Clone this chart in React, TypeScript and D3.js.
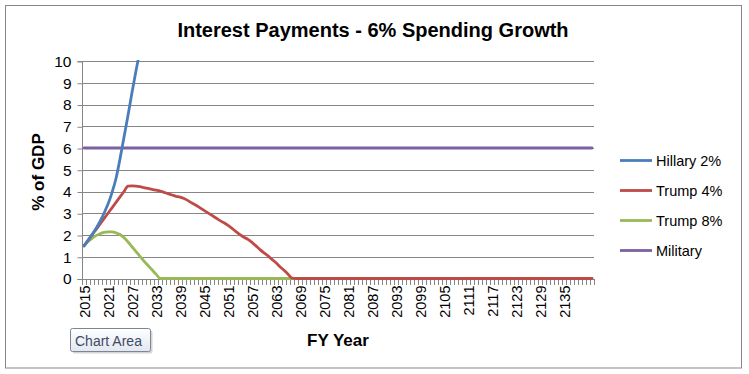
import { useEffect, useRef } from "react";
import * as d3 from "d3";

// Fiscal years on the category axis (2015 .. 2142)
const years: number[] = d3.range(2015, 2143);

// % of GDP (Hillary runs off the top after ~2028)
const hillary2: number[] = [
    1.5, 1.75, 2.02, 2.3, 2.62, 3.0, 3.42, 3.95, 4.6, 5.5, 6.5, 7.5, 8.55, 9.55, 10.5, 11.5,
];

const trump4: number[] = [
    1.5, 1.75, 2.0, 2.25, 2.5, 2.75, 3.0, 3.25, 3.5, 3.75, 4.0, 4.25, 4.26, 4.25, 4.22, 4.18,
    4.14, 4.1, 4.06, 4.02, 3.96, 3.9, 3.84, 3.78, 3.74, 3.68, 3.58, 3.47, 3.37, 3.25, 3.13, 3.02,
    2.9, 2.78, 2.66, 2.56, 2.44, 2.3, 2.16, 2.02, 1.9, 1.8, 1.66, 1.5, 1.33, 1.18, 1.04, 0.88,
    0.72, 0.54, 0.38, 0.2, 0.02, 0, 0, 0, 0, 0, 0, 0, 0, 0, 0, 0,
    0, 0, 0, 0, 0, 0, 0, 0, 0, 0, 0, 0, 0, 0, 0, 0,
    0, 0, 0, 0, 0, 0, 0, 0, 0, 0, 0, 0, 0, 0, 0, 0,
    0, 0, 0, 0, 0, 0, 0, 0, 0, 0, 0, 0, 0, 0, 0, 0,
    0, 0, 0, 0, 0, 0, 0, 0, 0, 0, 0, 0, 0, 0, 0, 0,
];

const trump8: number[] = [
    1.5, 1.7, 1.85, 1.97, 2.06, 2.12, 2.14, 2.14, 2.1, 2.02, 1.88, 1.68, 1.46, 1.24, 1.02, 0.8,
    0.6, 0.4, 0.2, 0.01, 0, 0, 0, 0, 0, 0, 0, 0, 0, 0, 0, 0,
    0, 0, 0, 0, 0, 0, 0, 0, 0, 0, 0, 0, 0, 0, 0, 0,
    0, 0, 0, 0, 0, 0, 0, 0, 0, 0, 0, 0, 0, 0, 0, 0,
    0, 0, 0, 0, 0, 0, 0, 0, 0, 0, 0, 0, 0, 0, 0, 0,
    0, 0, 0, 0, 0, 0, 0, 0, 0, 0, 0, 0, 0, 0, 0, 0,
    0, 0, 0, 0, 0, 0, 0, 0, 0, 0, 0, 0, 0, 0, 0, 0,
    0, 0, 0, 0, 0, 0, 0, 0, 0, 0, 0, 0, 0, 0, 0, 0,
];

const military: number[] = [
    6, 6, 6, 6, 6, 6, 6, 6, 6, 6, 6, 6, 6, 6, 6, 6,
    6, 6, 6, 6, 6, 6, 6, 6, 6, 6, 6, 6, 6, 6, 6, 6,
    6, 6, 6, 6, 6, 6, 6, 6, 6, 6, 6, 6, 6, 6, 6, 6,
    6, 6, 6, 6, 6, 6, 6, 6, 6, 6, 6, 6, 6, 6, 6, 6,
    6, 6, 6, 6, 6, 6, 6, 6, 6, 6, 6, 6, 6, 6, 6, 6,
    6, 6, 6, 6, 6, 6, 6, 6, 6, 6, 6, 6, 6, 6, 6, 6,
    6, 6, 6, 6, 6, 6, 6, 6, 6, 6, 6, 6, 6, 6, 6, 6,
    6, 6, 6, 6, 6, 6, 6, 6, 6, 6, 6, 6, 6, 6, 6, 6,
];

const seriesNames = ["Hillary 2%", "Trump 4%", "Trump 8%", "Military"];
const seriesColors = ["#4a7ebb", "#be4b48", "#98b954", "#7d60a0"];
const yTicks = [0, 1, 2, 3, 4, 5, 6, 7, 8, 9, 10];

export default function App() {
    const svgRef = useRef<SVGSVGElement | null>(null);

    useEffect(() => {
        const width = 749;
        const height = 374;
        const font = "'Liberation Sans', Arial, sans-serif";

        const svg = d3.select(svgRef.current!).attr("width", width).attr("height", height);
        svg.selectAll("*").remove();

        // outer chart border
        svg.append("rect")
            .attr("x", 5.5).attr("y", 5.5)
            .attr("width", 736).attr("height", 362.5)
            .attr("fill", "white")
            .attr("stroke", "#878787");

        // plot area
        const left = 82, right = 594, top = 61, bottom = 278.5;

        const x = d3.scaleBand<number>().domain(years).range([left, right]).padding(0);
        const y = d3.scaleLinear().domain([0, 10]).range([bottom, top]);

        // horizontal gridlines
        svg.append("g")
            .selectAll("line")
            .data(yTicks.filter((t) => t > 0))
            .enter()
            .append("line")
            .attr("x1", left)
            .attr("x2", right)
            .attr("y1", (d) => Math.round(y(d)) + 0.5)
            .attr("y2", (d) => Math.round(y(d)) + 0.5)
            .attr("stroke", "#868686");

        // y axis, ticks out to the left
        const yAxis = svg.append("g")
            .attr("transform", `translate(${left + 0.5},0.5)`)
            .call(d3.axisLeft(y).tickValues(yTicks).tickSize(5).tickPadding(6).tickFormat(d3.format("d")));
        yAxis.select(".domain").attr("stroke", "#868686").attr("d", `M-5,${Math.round(y(10))}H0V${Math.round(y(0))}H-5`);
        yAxis.selectAll(".tick line").attr("stroke", "#868686");
        yAxis.selectAll(".tick text")
            .attr("fill", "#000")
            .style("font-family", font)
            .style("font-size", "15.5px");

        // x axis: a tick between every category, labels every 6 years
        const boundaries = d3.range(years.length + 1).map((i) => left + i * x.bandwidth());
        const xg = svg.append("g");
        xg.append("line")
            .attr("x1", left).attr("x2", right)
            .attr("y1", Math.round(bottom) + 0.5).attr("y2", Math.round(bottom) + 0.5)
            .attr("stroke", "#868686");
        xg.selectAll("line.tick")
            .data(boundaries)
            .enter()
            .append("line")
            .attr("class", "tick")
            .attr("x1", (d) => Math.round(d) + 0.5)
            .attr("x2", (d) => Math.round(d) + 0.5)
            .attr("y1", Math.round(bottom))
            .attr("y2", Math.round(bottom) + 6)
            .attr("stroke", "#868686");

        const labelYears = years.filter((yr) => (yr - 2015) % 6 === 0 && yr <= 2135);
        xg.selectAll("text")
            .data(labelYears)
            .enter()
            .append("text")
            .attr("transform", (d) => `translate(${x(d)! + x.bandwidth() / 2 + 6},${bottom + 7}) rotate(-90)`)
            .attr("text-anchor", "end")
            .style("font-family", font)
            .style("font-size", "14.5px")
            .text((d) => String(d));

        // lines, clipped to the plot area
        svg.append("clipPath").attr("id", "plot-clip")
            .append("rect")
            .attr("x", left).attr("y", top - 1)
            .attr("width", right - left + 2).attr("height", bottom - top + 4);

        const line = d3.line<number>()
            .x((_, i) => x(years[i])! + x.bandwidth() / 2)
            .y((d) => y(d))
            .curve(d3.curveMonotoneX);

        const allSeries = [hillary2, trump4, trump8, military];
        const lg = svg.append("g").attr("clip-path", "url(#plot-clip)");
        // draw in reverse so Hillary sits on top, as in Excel
        [3, 2, 1, 0].forEach((i) => {
            lg.append("path")
                .attr("d", line(allSeries[i])!)
                .attr("fill", "none")
                .attr("stroke", seriesColors[i])
                .attr("stroke-width", 2.8)
                .attr("stroke-linejoin", "round")
                .attr("stroke-linecap", "round");
        });

        // legend
        const legend = svg.append("g");
        seriesNames.forEach((name, i) => {
            const ly = 160.5 + i * 30;
            legend.append("line")
                .attr("x1", 620).attr("x2", 652)
                .attr("y1", ly).attr("y2", ly)
                .attr("stroke", seriesColors[i])
                .attr("stroke-width", 2.8);
            legend.append("text")
                .attr("x", 656)
                .attr("y", ly + 5)
                .style("font-family", font)
                .style("font-size", "14.5px")
                .text(name);
        });

        // title and axis titles
        svg.append("text")
            .attr("x", 373)
            .attr("y", 37)
            .attr("text-anchor", "middle")
            .style("font-family", font)
            .style("font-size", "20px")
            .style("font-weight", "bold")
            .text("Interest Payments - 6% Spending Growth");

        svg.append("text")
            .attr("transform", `translate(44,172) rotate(-90)`)
            .attr("text-anchor", "middle")
            .style("font-family", font)
            .style("font-size", "17px")
            .style("font-weight", "bold")
            .text("% of GDP");

        svg.append("text")
            .attr("x", 338)
            .attr("y", 346)
            .attr("text-anchor", "middle")
            .style("font-family", font)
            .style("font-size", "17px")
            .style("font-weight", "bold")
            .text("FY Year");

        // the "Chart Area" hover tip from the screenshot
        const defs = svg.append("defs");
        const grad = defs.append("linearGradient")
            .attr("id", "tip-grad")
            .attr("x1", "0%").attr("y1", "0%")
            .attr("x2", "0%").attr("y2", "100%");
        grad.append("stop").attr("offset", "0%").style("stop-color", "#ffffff");
        grad.append("stop").attr("offset", "100%").style("stop-color", "#e3e7ef");

        svg.append("rect")
            .attr("x", 72.5).attr("y", 330.5)
            .attr("width", 80).attr("height", 23)
            .attr("rx", 2)
            .attr("fill", "#b9b9b9")
            .attr("opacity", 0.6);
        svg.append("rect")
            .attr("x", 70.5).attr("y", 328.5)
            .attr("width", 80).attr("height", 23)
            .attr("rx", 2)
            .attr("fill", "url(#tip-grad)")
            .attr("stroke", "#7a8596");
        svg.append("text")
            .attr("x", 75)
            .attr("y", 345.5)
            .attr("fill", "#3b4b66")
            .style("font-family", font)
            .style("font-size", "14px")
            .text("Chart Area");
    }, []);

    return <svg ref={svgRef} style={{ position: "absolute", left: 0, top: 0 }} />;
}
